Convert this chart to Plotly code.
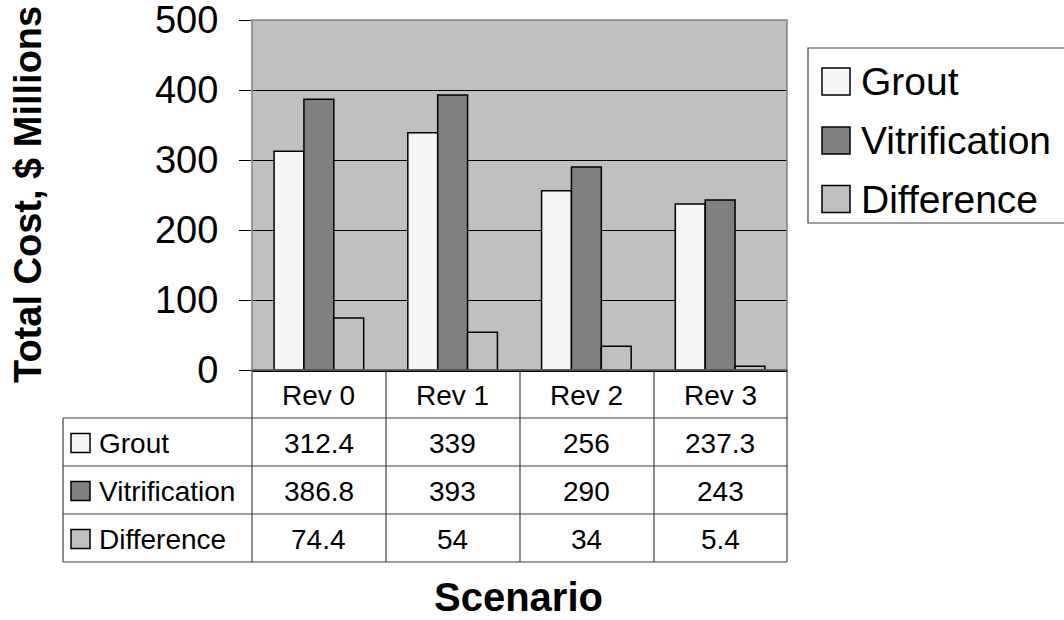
import plotly.graph_objects as go

# ---- data ----
scenarios = ["Rev 0", "Rev 1", "Rev 2", "Rev 3"]
grout = [312.4, 339, 256, 237.3]
vitrification = [386.8, 393, 290, 243]
difference = [74.4, 54, 34, 5.4]
series_names = ["Grout", "Vitrification", "Difference"]
series_values = [grout, vitrification, difference]
series_colors = ["#f5f5f5", "#808080", "#c0c0c0"]
y_ticks = [0, 100, 200, 300, 400, 500]

FONT = "Liberation Sans, Arial, sans-serif"
W, H = 1064, 620
L, R, T, B = 252, 277, 20, 250
PW, PH = W - L - R, H - T - B
TABLE_FS = 28


def px_x(px):
    return (px - L) / PW


def px_y(py):
    return (H - B - py) / PH


fig = go.Figure()
for name, vals, col in zip(series_names, series_values, series_colors):
    fig.add_trace(go.Bar(
        x=scenarios, y=vals, name=name,
        marker=dict(color=col, line=dict(color="black", width=1.5)),
        showlegend=False,
    ))

shapes = []
annotations = []

# plot border (gray)
shapes.append(dict(type="rect", xref="paper", yref="paper", x0=0, x1=1, y0=0, y1=1,
                   line=dict(color="#808080", width=1.5), layer="above"))

# ---- data table ----
row_tops = [370, 418, 466, 514, 562]
col_lines = [252, 386, 520, 654, 787]
line_col = "#404040"
for i, yy in enumerate(row_tops):
    x0 = 252 if i == 0 else 63
    shapes.append(dict(type="line", xref="paper", yref="paper",
                       x0=px_x(x0), x1=px_x(787), y0=px_y(yy), y1=px_y(yy),
                       line=dict(color=line_col, width=1.2)))
for xx in col_lines:
    shapes.append(dict(type="line", xref="paper", yref="paper",
                       x0=px_x(xx), x1=px_x(xx), y0=px_y(370), y1=px_y(562),
                       line=dict(color=line_col, width=1.2)))
shapes.append(dict(type="line", xref="paper", yref="paper",
                   x0=px_x(63), x1=px_x(63), y0=px_y(418), y1=px_y(562),
                   line=dict(color=line_col, width=1.2)))

for s in scenarios:
    annotations.append(dict(x=s, xref="x", y=px_y(395), yref="paper", text=s,
                            showarrow=False, font=dict(family=FONT, size=TABLE_FS, color="black"),
                            xanchor="center", yanchor="middle"))
for r, (name, vals, col) in enumerate(zip(series_names, series_values, series_colors)):
    cy = (row_tops[r + 1] + row_tops[r + 2]) / 2 + 1
    shapes.append(dict(type="rect", xref="paper", yref="paper",
                       x0=px_x(71), x1=px_x(90), y0=px_y(cy - 9.5), y1=px_y(cy + 9.5),
                       fillcolor=col, line=dict(color="black", width=1.5)))
    annotations.append(dict(x=px_x(97), xref="paper", y=px_y(cy), yref="paper", text=name,
                            showarrow=False, font=dict(family=FONT, size=TABLE_FS, color="black"),
                            xanchor="left", yanchor="middle"))
    for s, v in zip(scenarios, vals):
        annotations.append(dict(x=s, xref="x", y=px_y(cy), yref="paper", text=f"{v:g}",
                                showarrow=False, font=dict(family=FONT, size=TABLE_FS, color="black"),
                                xanchor="center", yanchor="middle"))

# ---- legend (drawn; box runs past the right edge as in the reference) ----
shapes.append(dict(type="path", xref="paper", yref="paper",
                   path=(f"M{px_x(1120)},{px_y(48)} L{px_x(808)},{px_y(48)} "
                         f"L{px_x(808)},{px_y(223)} L{px_x(1120)},{px_y(223)}"),
                   fillcolor="white", line=dict(color=line_col, width=1.2)))
leg_centers = [81.5, 140.5, 199]
for name, col, cy in zip(series_names, series_colors, leg_centers):
    shapes.append(dict(type="rect", xref="paper", yref="paper",
                       x0=px_x(822), x1=px_x(850), y0=px_y(cy - 13.5), y1=px_y(cy + 13.5),
                       fillcolor=col, line=dict(color="black", width=1.5)))
    annotations.append(dict(x=px_x(859), xref="paper", y=px_y(cy), yref="paper", text=name,
                            showarrow=False, font=dict(family=FONT, size=39, color="black"),
                            xanchor="left", yanchor="middle"))

# ---- axis titles ----
annotations.append(dict(x=px_x(28), xref="paper", y=px_y(195), yref="paper",
                        text="<b>Total Cost, $ Millions</b>", textangle=-90, showarrow=False,
                        font=dict(family=FONT, size=38, color="black"),
                        xanchor="center", yanchor="middle"))
annotations.append(dict(x=px_x(518), xref="paper", y=px_y(597), yref="paper",
                        text="<b>Scenario</b>", showarrow=False,
                        font=dict(family=FONT, size=40, color="black"),
                        xanchor="center", yanchor="middle"))

fig.update_layout(
    width=W, height=H,
    margin=dict(l=L, r=R, t=T, b=B, autoexpand=False),
    paper_bgcolor="white", plot_bgcolor="#c0c0c0",
    barmode="group", bargap=0.33, bargroupgap=0,
    font=dict(family=FONT, color="black"),
    shapes=shapes, annotations=annotations,
    showlegend=False,
)
fig.update_xaxes(showticklabels=False, ticks="", showgrid=False,
                 showline=True, linecolor="black", linewidth=2, mirror=False)
fig.update_yaxes(range=[0, 500], tickvals=y_ticks, ticks="outside", ticklen=12,
                 tickcolor="black", tickwidth=1.2, showgrid=True, gridcolor="black",
                 gridwidth=1, zeroline=False, showline=False,
                 tickfont=dict(family=FONT, size=38, color="black"),
                 ticklabelstandoff=13, ticklabeloverflow="allow")

fig.write_html("out.html", config={"displayModeBar": False},
               post_script="document.body.style.margin='0';")
